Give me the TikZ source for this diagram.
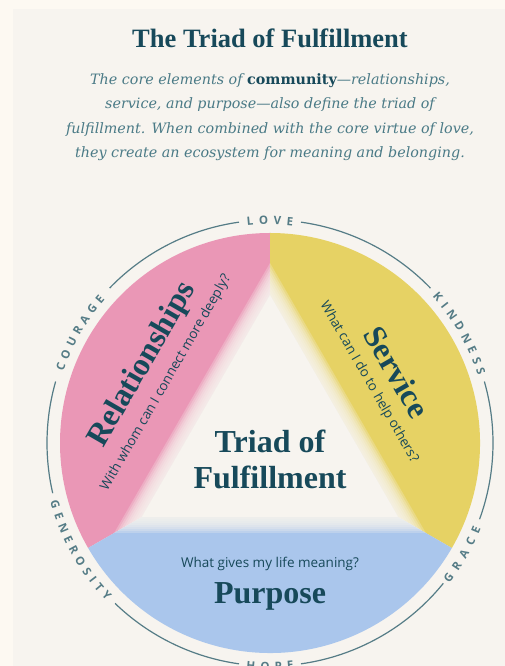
\documentclass[tikz,border=0pt]{standalone}
\usepackage{fontspec}
\setmainfont{Liberation Serif}
\setsansfont{Open Sans}
\newfontfamily\blurbfont[Ligatures=TeX]{DejaVu Serif}
\usepackage{xcolor}
\definecolor{paper}{HTML}{FDF9F2}
\definecolor{panel}{HTML}{F7F4EF}
\definecolor{ink}{HTML}{17495A}
\definecolor{inkSoft}{HTML}{4A7A86}
\definecolor{ringline}{HTML}{557C86}
\definecolor{rosePink}{HTML}{EA97B6}
\definecolor{mustard}{HTML}{E6D264}
\definecolor{skyBlue}{HTML}{AAC6EC}
\usetikzlibrary{decorations.text}

\begin{document}
\begin{tikzpicture}[
  x=1pt, y=1pt,
  every node/.style={align=center, text=ink, inner sep=0pt},
  title/.style={font=\fontsize{26.5}{28}\selectfont\bfseries},
  blurb/.style={font=\blurbfont\fontsize{14.3}{24.5}\selectfont\itshape, text=inkSoft},
  heading/.style={font=\fontsize{32}{36}\selectfont\bfseries},
  sector/.style={font=\fontsize{32}{34}\selectfont\bfseries},
  prompt/.style={font=\sffamily\fontsize{13.5}{15}\selectfont},
  ring/.style={draw=ringline, line width=1.2pt},
  ringtext/.style={decorate, decoration={text along path,
    text align={fit to path}, text color=ringline,
    text={|\sffamily\bfseries\fontsize{11.5}{13}\selectfont|#1}}},
]
  \useasboundingbox (0,0) rectangle (505,666);
  % page and panel
  \fill[paper] (0,0) rectangle (505,666);
  \fill[panel] (13,0) rectangle (505,657);

  \node[title] (head) at (270,628) {The Triad of Fulfillment};
  \node[blurb, anchor=north] (blurb) at (270,593)
    {The core elements of {\upshape\bfseries\color{ink}community}---relationships,\\
     service, and purpose---also define the triad of\\
     fulfillment. When combined with the core virtue of love,\\
     they create an ecosystem for meaning and belonging.};

  \begin{scope}[shift={(270,223)}]
    % three sectors around the inner triangle
    \fill[rosePink] (90:210) arc[start angle=90, end angle=210, radius=210]
      -- (210:148) -- (90:148) -- cycle;
    \fill[mustard] (-30:210) arc[start angle=-30, end angle=90, radius=210]
      -- (90:148) -- (-30:148) -- cycle;
    \fill[skyBlue] (210:210) arc[start angle=210, end angle=330, radius=210]
      -- (330:148) -- (210:148) -- cycle;

    % soft edge towards the triangle
    \fill[panel] (90:148) -- (210:148) -- (330:148) -- cycle;
    \foreach \w in {32,28,...,4}
      \draw[panel, draw opacity=0.25, line width=\w pt, line join=miter]
        (90:148) -- (210:148) -- (330:148) -- cycle;

    % outer ring, broken for the virtues
    \draw[ring] (98:223) arc[start angle=98, end angle=136, radius=223];
    \draw[ring] (164:223) arc[start angle=164, end angle=193, radius=223];
    \draw[ring] (226:223) arc[start angle=226, end angle=262, radius=223];
    \draw[ring] (278:223) arc[start angle=278, end angle=321, radius=223];
    \draw[ring] (340:223) arc[start angle=340, end angle=376, radius=223];
    \draw[ring] (44:223) arc[start angle=44, end angle=82, radius=223];

    \path[ringtext=LOVE] (96:218.5) arc[start angle=96, end angle=84, radius=218.5];
    \path[ringtext=KINDNESS] (42:218.5) arc[start angle=42, end angle=18, radius=218.5];
    \path[ringtext=COURAGE] (161:218.5) arc[start angle=161, end angle=139, radius=218.5];
    \path[ringtext=GRACE] (-38:227.5) arc[start angle=-38, end angle=-22, radius=227.5];
    \path[ringtext=HOPE] (-96:227.5) arc[start angle=-96, end angle=-84, radius=227.5];
    \path[ringtext=GENEROSITY] (-165:227.5) arc[start angle=-165, end angle=-136, radius=227.5];

    % labels
    \node[heading] (triad) at (0,-16) {Triad of\\Fulfillment};
    \node[sector, rotate=60] (rel) at (-127,78) {Relationships};
    \node[prompt, rotate=60] (relq) at (-104,60) {With whom can I connect more deeply?};
    \node[sector, rotate=-60] (serv) at (127,71) {Service};
    \node[prompt, rotate=-60] (servq) at (99,61) {What can I do to help others?};
    \node[prompt] (purpq) at (0,-121) {What gives my life meaning?};
    \node[sector] (purp) at (0,-153) {Purpose};
  \end{scope}
\end{tikzpicture}
\end{document}
